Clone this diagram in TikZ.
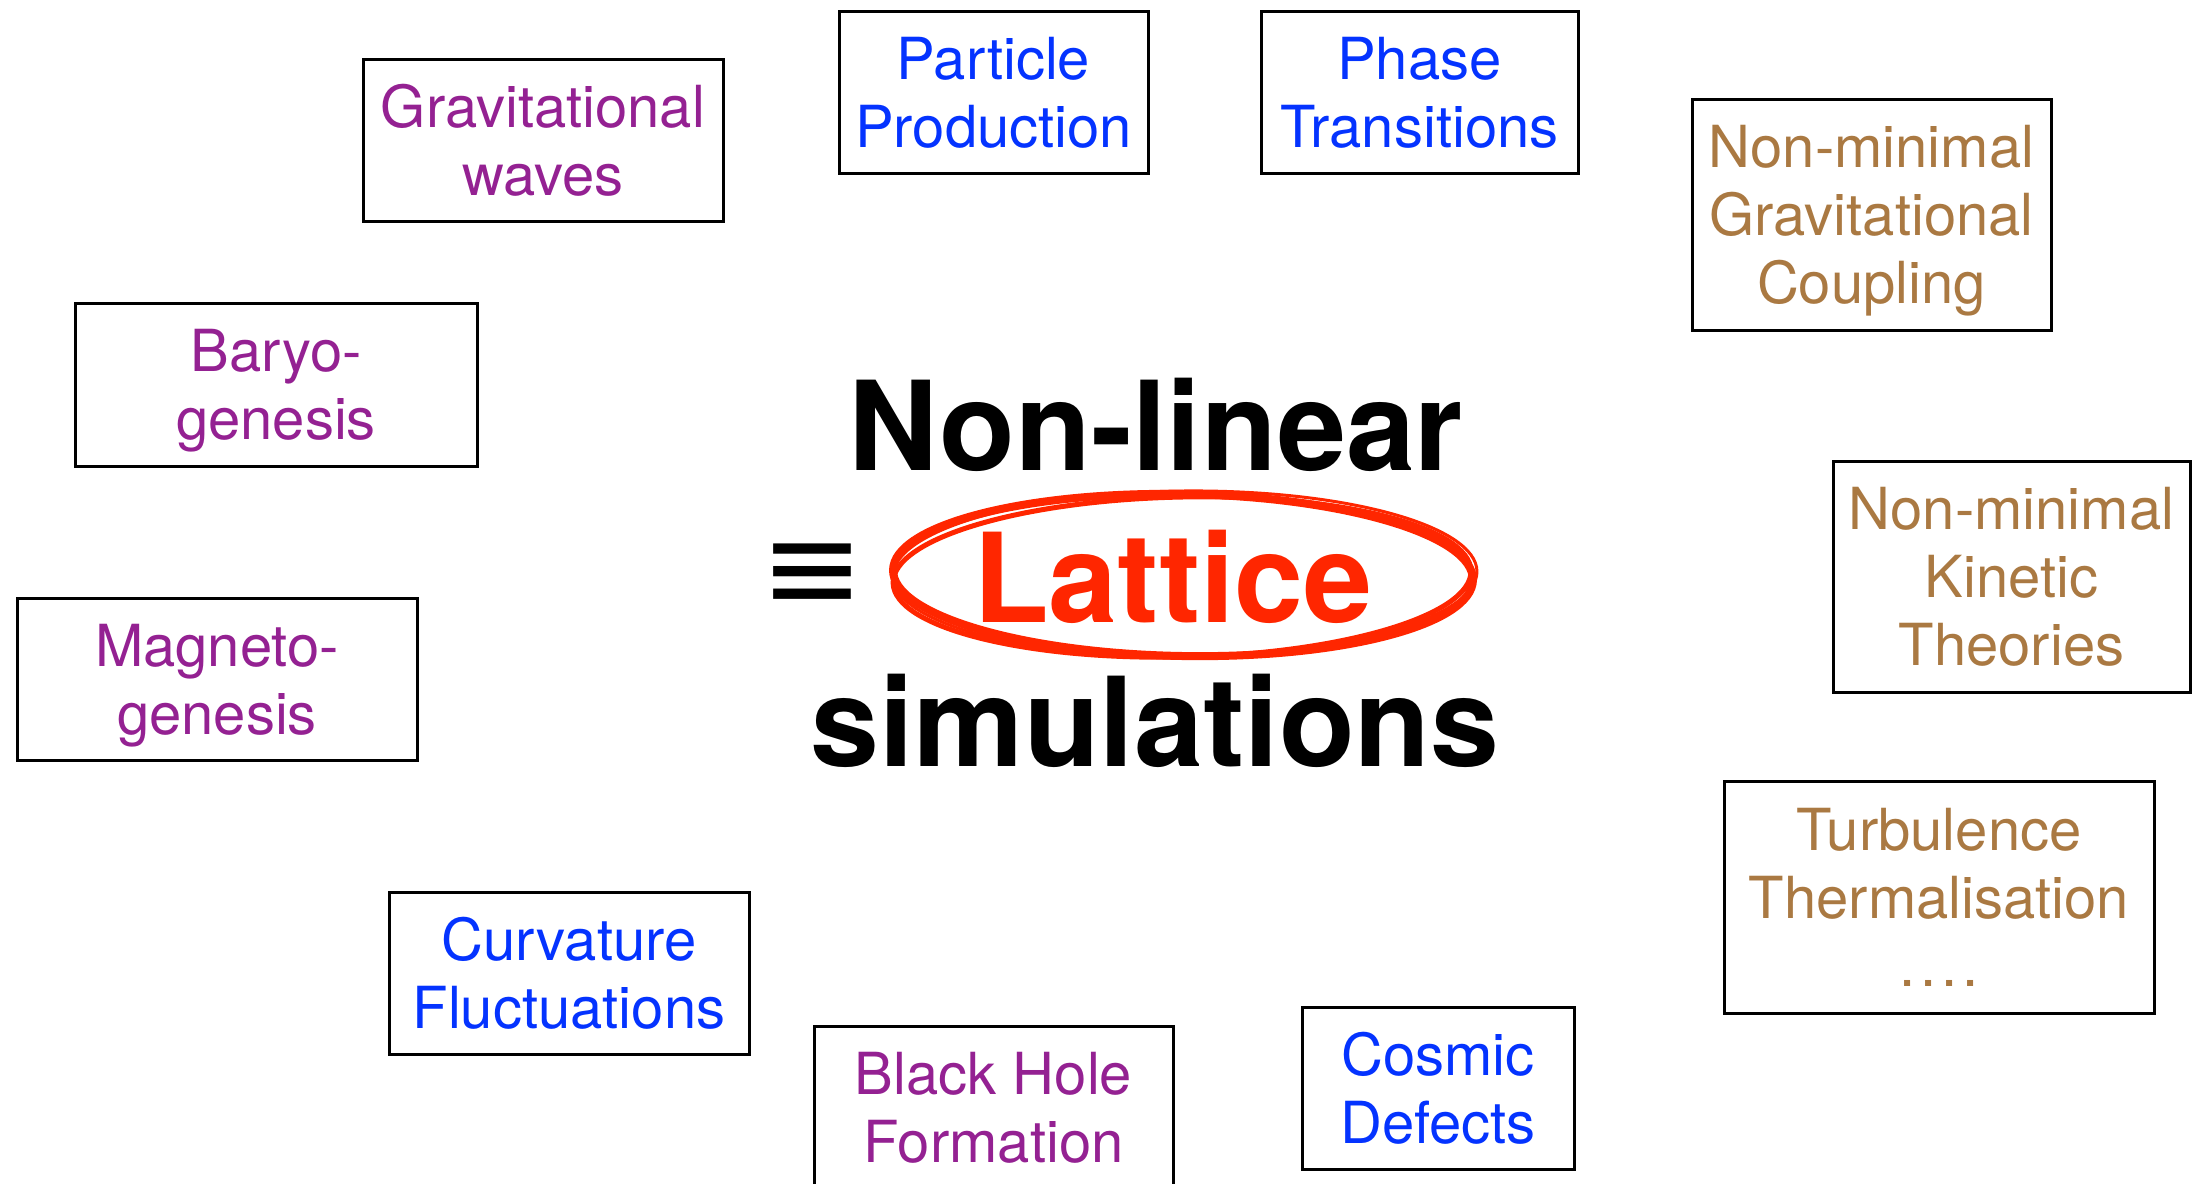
\documentclass[tikz,border=0pt]{standalone}
\usepackage{fontspec}
\setmainfont{TeX Gyre Heros}
\newfontfamily\symfont{DejaVu Sans}
\definecolor{cpurple}{RGB}{148,33,146}
\definecolor{cblue}{RGB}{4,51,255}
\definecolor{cbrown}{RGB}{170,121,66}
\definecolor{cred}{RGB}{255,38,0}
\begin{document}
\begin{tikzpicture}[x=0.5pt,y=-0.5pt,
  topic/.style={draw=black, line width=1.5pt, inner sep=0pt, align=center,
    font=\fontsize{29}{34}\selectfont, text depth=0pt},
  big/.style={font=\fontsize{62}{70}\selectfont\bfseries, anchor=base, inner sep=0pt}]
\useasboundingbox (0,0) rectangle (2192,1184);

\node[topic, text=cpurple, minimum width=180pt, minimum height=81pt] (gw) at (543,140) {Gravitational\\waves};
\node[topic, text=cblue, minimum width=154.5pt, minimum height=81pt] (pp) at (993.5,92) {Particle\\Production};
\node[topic, text=cblue, minimum width=158.5pt, minimum height=81pt] (pt) at (1419.5,92) {Phase\\Transitions};
\node[topic, text=cbrown, minimum width=179.5pt, minimum height=115.5pt] (nmgc) at (1871.5,214.5) {Non-minimal\\Gravitational\\Coupling};
\node[topic, text=cpurple, minimum width=201pt, minimum height=81.5pt] (bar) at (276,384.5) {Baryo-\\genesis};
\node[topic, text=cbrown, minimum width=178.5pt, minimum height=115.5pt] (nmkt) at (2011.5,576.5) {Non-minimal\\Kinetic\\Theories};
\node[topic, text=cpurple, minimum width=200pt, minimum height=81pt] (mag) at (217,679) {Magneto-\\genesis};
\node[topic, text=cbrown, minimum width=215pt, minimum height=116pt] (turb) at (1939,897) {Turbulence\\Thermalisation\\.\hspace{2.5pt}.\hspace{2.5pt}.\hspace{2.5pt}.};
\node[topic, text=cblue, minimum width=180pt, minimum height=81pt] (curv) at (569,973) {Curvature\\Fluctuations};
\node[topic, text=cpurple, minimum width=179.5pt, minimum height=81pt] (bh) at (993.5,1107) {Black Hole\\Formation};
\node[topic, text=cblue, minimum width=136pt, minimum height=81pt] (cd) at (1438,1088) {Cosmic\\Defects};

\node[big] (nl) at (1156,470) {Non-linear};
\node[big, text=cred] (lat) at (1173,622) {Lattice};
\node[big] (sim) at (1155,766) {simulations};

\draw[cred, line width=4pt, rotate around={-1:(1183,575)}] (1183,575) ellipse [x radius=145pt, y radius=40.5pt];
\draw[cred, line width=2.5pt, rotate around={1.2:(1183,575)}] (1182,577) ellipse [x radius=144.5pt, y radius=40pt];
\draw[cred, line width=1.5pt, rotate around={0.5:(1183,575)}] (1185,574) ellipse [x radius=146pt, y radius=41.5pt];

\node[inner sep=0pt] (eq) at (812,577) {\symfont\fontsize{62}{62}\selectfont ≡};
\end{tikzpicture}
\end{document}
